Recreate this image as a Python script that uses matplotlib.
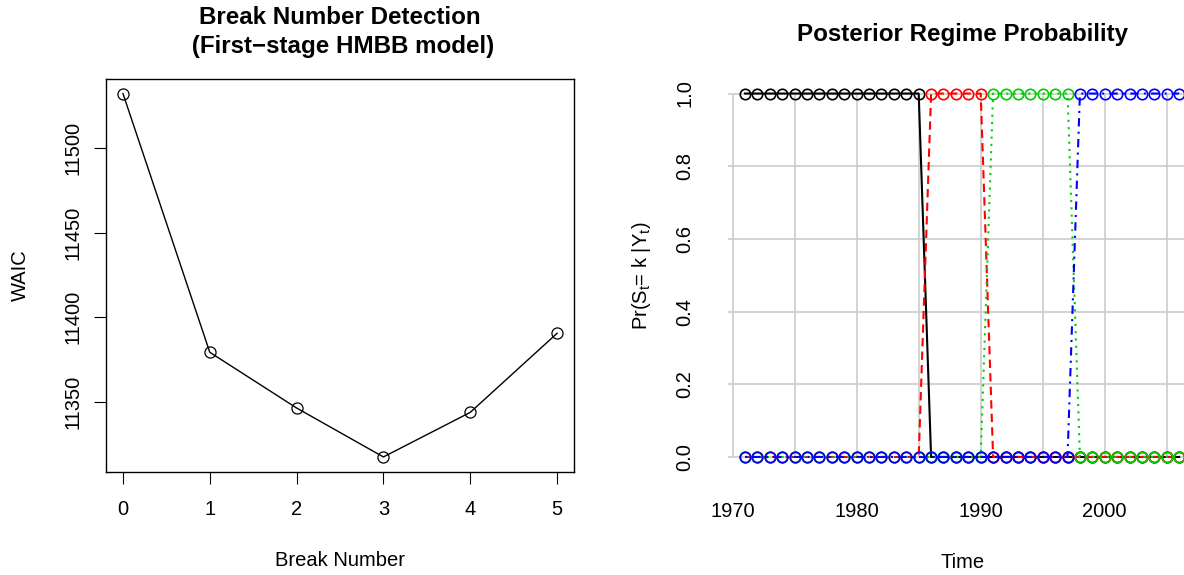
import matplotlib
matplotlib.use("Agg")
import matplotlib.pyplot as plt
import numpy as np

plt.rcParams['font.family'] = ['Liberation Sans', 'DejaVu Sans']
plt.rcParams['mathtext.fontset'] = 'custom'
plt.rcParams['mathtext.rm'] = 'Liberation Sans'
plt.rcParams['mathtext.it'] = 'Liberation Sans'

# left panel: WAIC by number of breaks
break_num = [0, 1, 2, 3, 4, 5]
waic = [11532.5, 11379.3, 11346.3, 11317.3, 11343.7, 11390.5]

# right panel: posterior regime probabilities
years = list(range(1971, 2007))
p_regime1 = [1] * 15 + [0] * 21
p_regime2 = [0] * 15 + [1] * 5 + [0] * 16
p_regime3 = [0] * 20 + [1] * 7 + [0] * 9
p_regime4 = [0] * 27 + [1] * 9
regime_cols = ['black', '#FF0000', '#00CD00', '#0000FF']
regime_ls = ['-', (0, (4, 2.5)), (0, (1, 2.5)), (0, (1, 2.5, 4, 2.5))]

FS = 14.5
W, H = 1184, 575
fig = plt.figure(figsize=(W / 100, H / 100), dpi=100)

# ---- left panel ----
ax1 = fig.add_axes([105.6 / W, 1 - 471.5 / H, 468.8 / W, 392.5 / H])
ax1.plot(break_num, waic, color='black', lw=1.0, marker='o', ms=8,
         mfc='none', mec='black', mew=0.9)
ax1.set_xlim(-0.2, 5.2)
lo, hi = min(waic), max(waic)
pad = 0.04 * (hi - lo)
ax1.set_ylim(lo - pad, hi + pad)
ax1.set_xticks(break_num)
ax1.set_yticks([11350, 11400, 11450, 11500])
for s in ax1.spines.values():
    s.set_linewidth(1.0)
ax1.tick_params(direction='out', length=8.6, width=0.8, labelsize=FS)
ax1.tick_params(axis='x', pad=12)
ax1.tick_params(axis='y', pad=8)
for t in ax1.get_yticklabels():
    t.set_rotation(90)
    t.set_va('center')
ax1.set_xlabel('Break Number', fontsize=FS, labelpad=23)
ax1.set_ylabel('WAIC', fontsize=FS, labelpad=24)
ax1.set_title('Break Number Detection\n (First\u2212stage HMBB model)',
              fontsize=17.4, fontweight='bold', pad=19, linespacing=1.3)

# ---- right panel ----
ax2 = fig.add_axes([727.7 / W, 1 - 471.5 / H, 468.8 / W, 392.5 / H])
ax2.set_xlim(1969.6, 2007.4)
ax2.set_ylim(-0.04, 1.04)
grid_col = '#cccccc'
ax2.vlines([1970, 1975, 1980, 1985, 1990, 1995, 2000, 2005, 2010], 0, 1,
           color=grid_col, lw=1.2, zorder=0)
for lev in [0, 0.2, 0.4, 0.6, 0.8, 1.0]:
    ax2.axhline(lev, color=grid_col, lw=1.2, zorder=0)

probs = [p_regime1, p_regime2, p_regime3, p_regime4]
for p, c, ls in zip(probs, regime_cols, regime_ls):
    ax2.plot(years, p, color=c, ls=ls, lw=1.5, marker='o', ms=7.5,
             mfc='none', mec=c, mew=1.2, zorder=2)

for s in ax2.spines.values():
    s.set_visible(False)
ax2.set_xticks([1970, 1980, 1990, 2000])
ax2.set_yticks([0, 0.2, 0.4, 0.6, 0.8, 1.0])
ax2.set_yticklabels(['0.0', '0.2', '0.4', '0.6', '0.8', '1.0'])
ax2.tick_params(length=0, labelsize=FS)
ax2.tick_params(axis='x', pad=22)
ax2.tick_params(axis='y', pad=24)
for t in ax2.get_yticklabels():
    t.set_rotation(90)
    t.set_va('center')
ax2.set_xlabel('Time', fontsize=FS, labelpad=23)
ax2.set_ylabel(r'Pr(S$_\mathregular{t}$= k |Y$_\mathregular{t}$)', fontsize=FS, labelpad=16)
ax2.set_title('Posterior Regime Probability', fontsize=17.4, fontweight='bold',
              pad=27)

fig.savefig('out.png', dpi=100)
